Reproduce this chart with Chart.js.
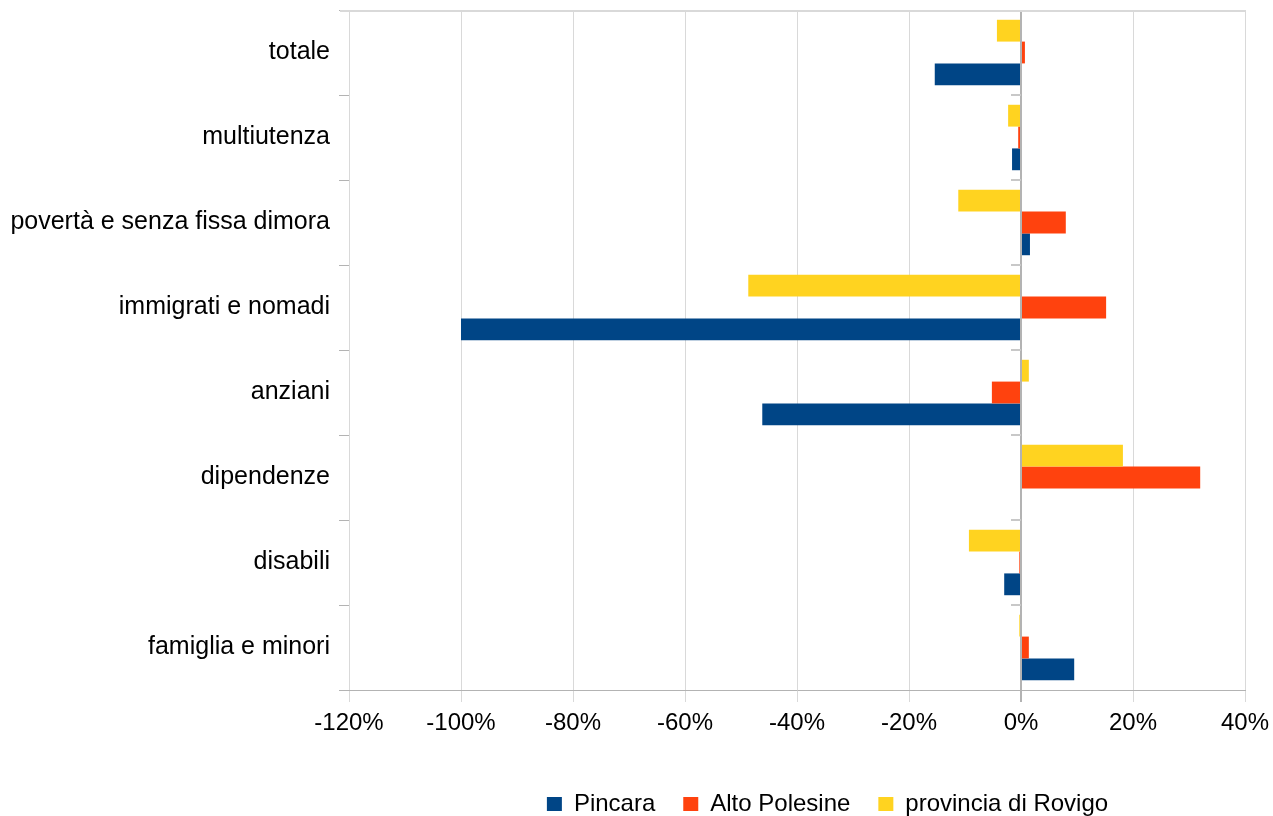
<!DOCTYPE html>
<html>
<head>
<meta charset="utf-8">
<script src="https://cdn.jsdelivr.net/npm/chart.js@4.4.1/dist/chart.umd.min.js"></script>
<style>
  html, body { margin: 0; padding: 0; background: #fff; }
  #wrap { width: 1273px; height: 816px; }
</style>
</head>
<body>
<div id="wrap"><canvas id="bars"></canvas></div>
<script>
// categories listed bottom -> top (y axis is reversed)
var categorie = ["famiglia e minori", "disabili", "dipendenze", "anziani",
  "immigrati e nomadi", "povertà e senza fissa dimora", "multiutenza", "totale"];

// variation in %
var pincara = [9.5, -3.0, 0, -46.2, -100, 1.6, -1.6, -15.4];
var altoPolesine = [1.4, -0.3, 32.0, -5.2, 15.2, 8.0, -0.5, 0.7];
var provinciaRovigo = [-0.3, -9.3, 18.2, 1.4, -48.7, -11.2, -2.3, -4.3];

var xTicks = [-120, -100, -80, -60, -40, -20, 0, 20, 40];

Chart.defaults.font.family = "'Liberation Sans', Arial, sans-serif";
Chart.defaults.font.size = 24;
Chart.defaults.color = "#000";

// legend sits a bit right and lower in the original
var moveLegend = {
  id: "moveLegend",
  afterLayout: function (chart) {
    var lg = chart.legend;
    lg.left += 205; lg.right += 205;
    lg.top += 10; lg.bottom += 10;
  }
};

// top border line and the small ticks on the 0 axis
var axisExtras = {
  id: "axisExtras",
  beforeDatasetsDraw: function (chart) {
    var c = chart.ctx, a = chart.chartArea;
    var x0 = chart.scales.x.getPixelForValue(0);
    var y = chart.scales.y;
    c.save();
    c.strokeStyle = "#d9d9d9";
    c.lineWidth = 2;
    c.beginPath();
    c.moveTo(a.left - 9, a.top + 1);
    c.lineTo(a.right, a.top + 1);
    c.stroke();
    c.strokeStyle = "#c8c8c8";
    c.lineWidth = 2;
    var half = (y.getPixelForValue(1) - y.getPixelForValue(0)) / 2;
    for (var i = 0; i < categorie.length - 1; i++) {
      var yy = Math.round(y.getPixelForValue(i) + half);
      c.beginPath();
      c.moveTo(x0 - 10, yy);
      c.lineTo(x0, yy);
      c.stroke();
    }
    c.restore();
  }
};

var ctx = document.getElementById("bars").getContext("2d");
var chart = new Chart(ctx, {
  type: "bar",
  data: {
    labels: categorie,
    datasets: [
      { label: "provincia di Rovigo", data: provinciaRovigo, backgroundColor: "#ffd320" },
      { label: "Alto Polesine", data: altoPolesine, backgroundColor: "#ff420e" },
      { label: "Pincara", data: pincara, backgroundColor: "#004586" }
    ]
  },
  options: {
    indexAxis: "y",
    responsive: true,
    maintainAspectRatio: false,
    animation: false,
    datasets: { bar: { barPercentage: 1, categoryPercentage: 0.77 } },
    layout: { padding: { top: 10, right: 28, left: 0, bottom: 0 } },
    plugins: {
      legend: {
        position: "bottom",
        labels: {
          boxWidth: 15, boxHeight: 14, padding: 28, font: { size: 24 },
          sort: function (a, b) { return b.datasetIndex - a.datasetIndex; }
        }
      },
      tooltip: { enabled: false }
    },
    scales: {
      x: {
        min: -120,
        max: 40,
        afterBuildTicks: function (scale) {
          scale.ticks = xTicks.map(function (v) { return { value: v }; });
        },
        ticks: {
          padding: 7,
          callback: function (v) { return v + "%"; }
        },
        grid: {
          color: function (c) { return c.tick && c.tick.value === 0 ? "#b3b3b3" : "#d9d9d9"; },
          lineWidth: function (c) { return c.tick && c.tick.value === 0 ? 2 : 1; },
          tickLength: 12
        },
        border: { color: "#b3b3b3" },
        afterFit: function (scale) {
          scale.height = 64;
          scale.paddingLeft = 0;
          scale.paddingRight = 0;
        }
      },
      y: {
        reverse: true,
        ticks: { padding: 9, font: { size: 25 } },
        grid: { drawOnChartArea: false, color: "#b3b3b3", tickLength: 10, offset: true },
        border: { display: false },
        afterFit: function (scale) {
          scale.width = 349;
          scale.paddingTop = 0;
          scale.paddingBottom = 0;
        }
      }
    }
  },
  plugins: [moveLegend, axisExtras]
});
</script>
</body>
</html>
